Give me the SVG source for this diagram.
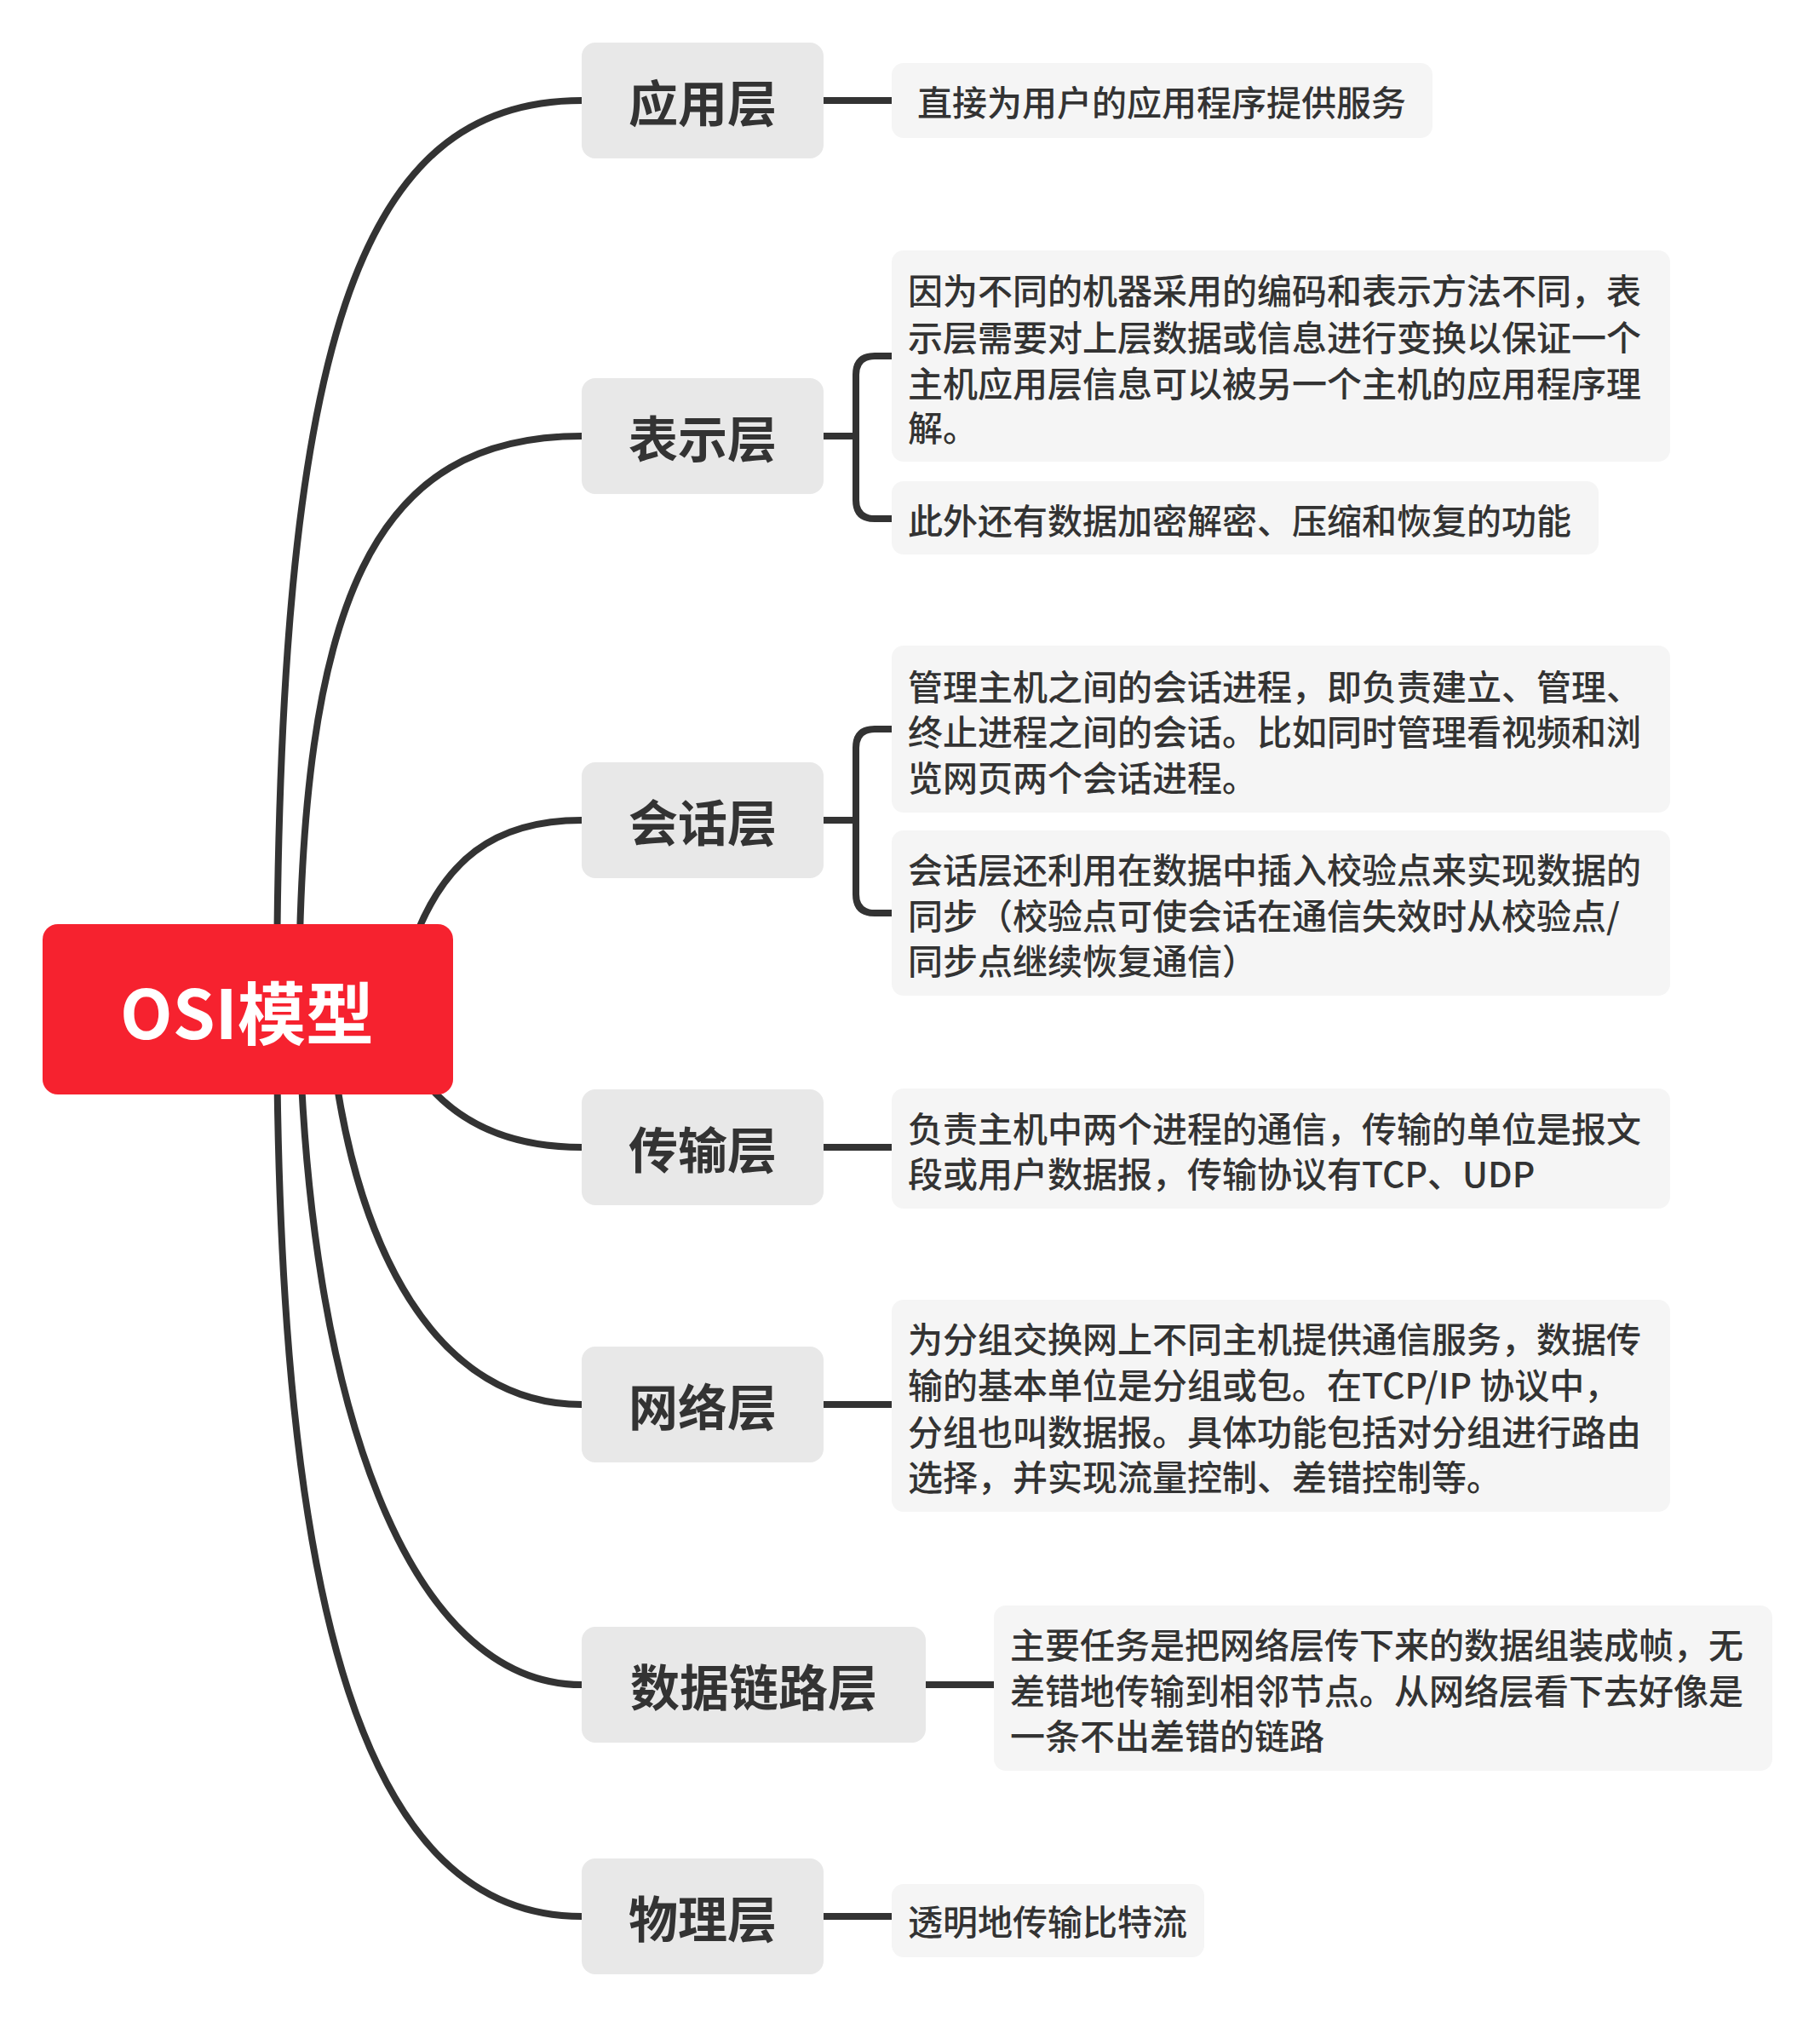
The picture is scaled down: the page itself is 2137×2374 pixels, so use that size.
<svg xmlns="http://www.w3.org/2000/svg" width="2137" height="2374" viewBox="0 0 2137 2374">
<style>
.c{fill:none;stroke:#333;stroke-width:8;stroke-linecap:round}
.n{fill:#e8e8e8}
.d{fill:#f5f5f5}
.t1{font-family:"Noto Sans CJK SC","Noto Sans",sans-serif;font-size:58px;font-weight:bold;fill:#333;text-anchor:middle;dominant-baseline:central}
.t2{font-family:"Noto Sans CJK SC","Noto Sans",sans-serif;font-size:41px;font-weight:500;fill:#333;dominant-baseline:central}
</style>
<rect width="2137" height="2374" fill="#fff"/>
<g id="connectors">
<path class="c" d="M325 1185 C325 400 420 118 683 118"/>
<path class="c" d="M351 1185 C351 700 440 512 683 512"/>
<path class="c" d="M484 1110 C520 1010 580 963 683 963"/>
<path class="c" d="M499 1270 C540 1320 600 1347 683 1347"/>
<path class="c" d="M385 1185 C410 1480 520 1649 683 1649"/>
<path class="c" d="M351 1185 C360 1650 480 1978 683 1978"/>
<path class="c" d="M325 1185 C325 1900 430 2250 683 2250"/>
<path class="c" d="M967 118 H1047"/>
<path class="c" d="M967 512 H1005 M1047 418 H1027 Q1005 418 1005 440 V587 Q1005 609 1027 609 H1047"/>
<path class="c" d="M967 963 H1005 M1047 856 H1027 Q1005 856 1005 878 V1050 Q1005 1072 1027 1072 H1047"/>
<path class="c" d="M967 1347 H1047"/>
<path class="c" d="M967 1649 H1047"/>
<path class="c" d="M1087 1978 H1167"/>
<path class="c" d="M967 2250 H1047"/>
</g>
<g id="root"><rect x="50" y="1085" width="482" height="200" rx="18" fill="#f6222f"/><text x="290" y="1185" font-family="'Noto Sans CJK SC','Noto Sans',sans-serif" font-size="80" font-weight="bold" fill="#fff" text-anchor="middle" dominant-baseline="central">OSI模型</text></g>
<g id="n1"><rect class="n" x="683" y="50" width="284" height="136" rx="16"/><text class="t1" x="825" y="118">应用层</text></g>
<g id="n2"><rect class="n" x="683" y="444" width="284" height="136" rx="16"/><text class="t1" x="825" y="512">表示层</text></g>
<g id="n3"><rect class="n" x="683" y="895" width="284" height="136" rx="16"/><text class="t1" x="825" y="963">会话层</text></g>
<g id="n4"><rect class="n" x="683" y="1279" width="284" height="136" rx="16"/><text class="t1" x="825" y="1347">传输层</text></g>
<g id="n5"><rect class="n" x="683" y="1581" width="284" height="136" rx="16"/><text class="t1" x="825" y="1649">网络层</text></g>
<g id="n6"><rect class="n" x="683" y="1910" width="404" height="136" rx="16"/><text class="t1" x="885" y="1978">数据链路层</text></g>
<g id="n7"><rect class="n" x="683" y="2182" width="284" height="136" rx="16"/><text class="t1" x="825" y="2250">物理层</text></g>
<g id="d1"><rect class="d" x="1047" y="74" width="635" height="88" rx="14"/><text class="t2" x="1077" y="118">直接为用户的应用程序提供服务</text></g>
<g id="d2"><rect class="d" x="1047" y="294" width="914" height="248" rx="14"/><text class="t2" x="1066" y="339">因为不同的机器采用的编码和表示方法不同，表</text><text class="t2" x="1066" y="394">示层需要对上层数据或信息进行变换以保证一个</text><text class="t2" x="1066" y="448">主机应用层信息可以被另一个主机的应用程序理</text><text class="t2" x="1066" y="500">解。</text></g>
<g id="d3"><rect class="d" x="1047" y="565" width="830" height="86" rx="14"/><text class="t2" x="1066" y="609">此外还有数据加密解密、压缩和恢复的功能</text></g>
<g id="d4"><rect class="d" x="1047" y="758" width="914" height="196" rx="14"/><text class="t2" x="1066" y="804">管理主机之间的会话进程，即负责建立、管理、</text><text class="t2" x="1066" y="857">终止进程之间的会话。比如同时管理看视频和浏</text><text class="t2" x="1066" y="911">览网页两个会话进程。</text></g>
<g id="d5"><rect class="d" x="1047" y="975" width="914" height="194" rx="14"/><text class="t2" x="1066" y="1019">会话层还利用在数据中插入校验点来实现数据的</text><text class="t2" x="1066" y="1073">同步（校验点可使会话在通信失效时从校验点/</text><text class="t2" x="1066" y="1126">同步点继续恢复通信）</text></g>
<g id="d6"><rect class="d" x="1047" y="1278" width="914" height="141" rx="14"/><text class="t2" x="1066" y="1323">负责主机中两个进程的通信，传输的单位是报文</text><text class="t2" x="1066" y="1376">段或用户数据报，传输协议有TCP、UDP</text></g>
<g id="d7"><rect class="d" x="1047" y="1526" width="914" height="249" rx="14"/><text class="t2" x="1066" y="1570">为分组交换网上不同主机提供通信服务，数据传</text><text class="t2" x="1066" y="1624">输的基本单位是分组或包。在TCP/IP 协议中，</text><text class="t2" x="1066" y="1679">分组也叫数据报。具体功能包括对分组进行路由</text><text class="t2" x="1066" y="1732">选择，并实现流量控制、差错控制等。</text></g>
<g id="d8"><rect class="d" x="1167" y="1885" width="914" height="194" rx="14"/><text class="t2" x="1186" y="1929">主要任务是把网络层传下来的数据组装成帧，无</text><text class="t2" x="1186" y="1983">差错地传输到相邻节点。从网络层看下去好像是</text><text class="t2" x="1186" y="2036">一条不出差错的链路</text></g>
<g id="d9"><rect class="d" x="1047" y="2212" width="367" height="86" rx="14"/><text class="t2" x="1066" y="2254">透明地传输比特流</text></g>
</svg>
